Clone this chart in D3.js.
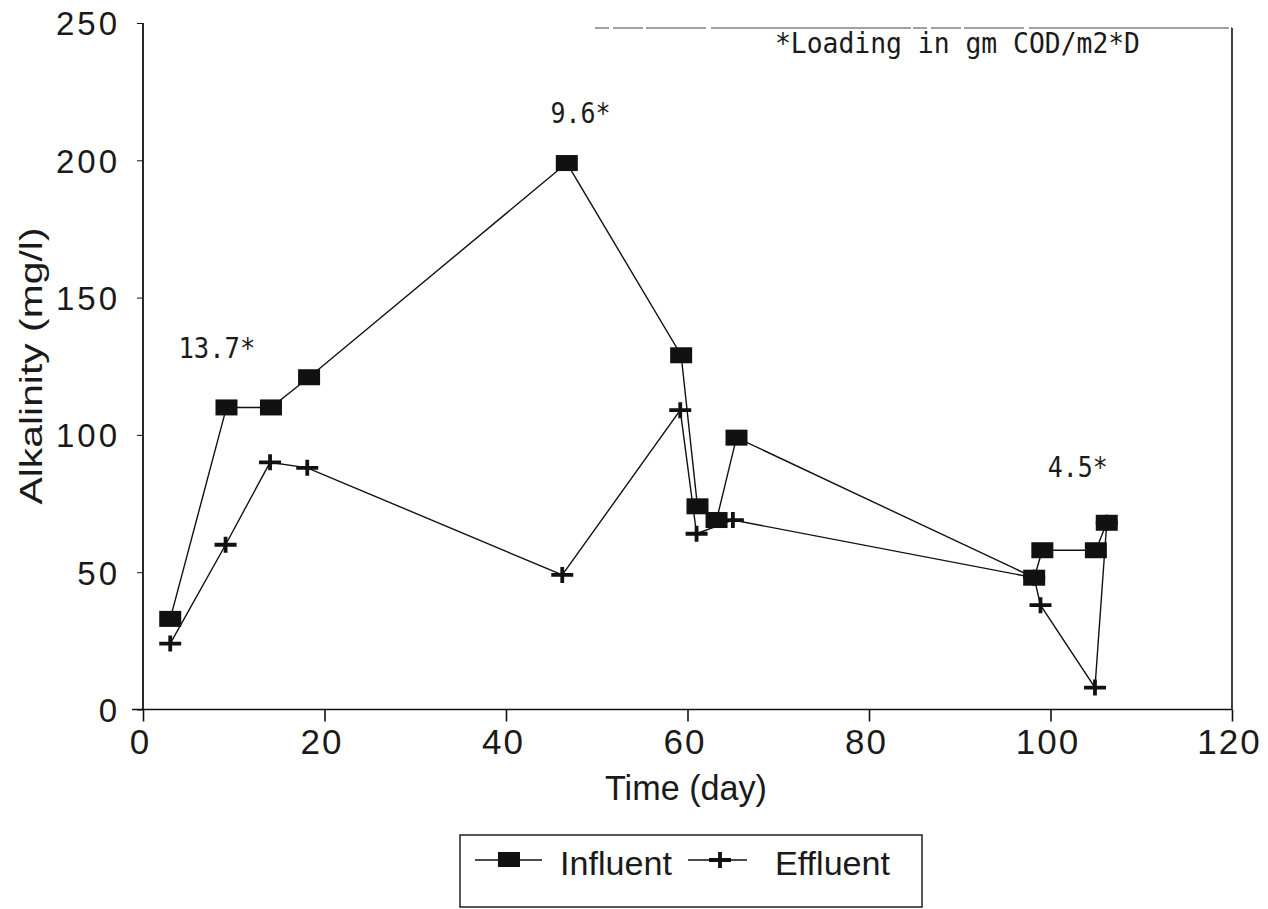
<!DOCTYPE html>
<html><head><meta charset="utf-8">
<script src="https://cdn.jsdelivr.net/npm/d3@7"></script>
<style>
html,body{margin:0;padding:0;background:#fff;}
svg{display:block;}
</style></head>
<body>
<svg id="chart" width="1268" height="909"></svg>
<script>
// ---- data ----
const influentX = [3, 9.2, 14.1, 18.3, 46.7, 59.3, 61.1, 63.2, 65.4, 98.2, 99.1, 105, 106.2];
const influentY = [33, 110, 110, 121, 199, 129, 74, 69, 99, 48, 58, 58, 68];
const effluentX = [3, 9.1, 14, 18.1, 46.2, 59.2, 61, 65, 98.2, 98.9, 104.9, 106.2];
const effluentY = [24, 60, 90, 88, 49, 109, 64, 69, 48, 38, 8, 68];
const xTicks = [0, 20, 40, 60, 80, 100, 120];
const yTicks = [0, 50, 100, 150, 200, 250];
const loadLabels = ["13.7*", "9.6*", "4.5*"];
const loadX = [3.9, 44.9, 99.7];
const loadY = [128, 213.6, 84.7];
const noteText = "*Loading in gm COD/m2*D";
const seriesNames = ["Influent", "Effluent"];

const svg = d3.select("#chart");
const x = d3.scaleLinear().domain([0, 120]).range([143, 1232]);
const y = d3.scaleLinear().domain([0, 250]).range([709.5, 23]);

const ink = "#111";
const textInk = "#1a1a1a";
const sans = "'Liberation Sans', Arial, sans-serif";
const mono = "'DejaVu Sans Mono', monospace";

// frame: top (faint, broken) and right
svg.append("line").attr("x1", 595).attr("x2", x(120)).attr("y1", 28).attr("y2", 28)
  .attr("stroke", "#444").attr("stroke-width", 1.2).attr("stroke-dasharray", "14,4,30,3,60,5,200,2");
svg.append("line").attr("x1", x(120)).attr("x2", x(120)).attr("y1", 28).attr("y2", y(0))
  .attr("stroke", ink).attr("stroke-width", 1.6);

// x axis
const xAxis = d3.axisBottom(x).tickValues(xTicks).tickSize(12).tickPadding(8).tickFormat(d3.format("d"));
const gx = svg.append("g").attr("transform", `translate(0,${y(0)})`).call(xAxis);
gx.select(".domain").attr("d", `M132,0H${x(120)}`).attr("stroke", ink).attr("stroke-width", 1.6);
gx.selectAll(".tick line").attr("stroke", ink).attr("stroke-width", 1.6);
gx.selectAll(".tick text").attr("font-family", sans).attr("font-size", 35).attr("fill", textInk)
  .attr("letter-spacing", "2px").attr("dx", "-3");

// y axis
const yAxis = d3.axisLeft(y).tickValues(yTicks).tickSize(6).tickPadding(17).tickFormat(d3.format("d"));
const gy = svg.append("g").attr("transform", `translate(${x(0)},0)`).call(yAxis);
gy.select(".domain").attr("d", `M0,${y(250)}V${y(0)}`).attr("stroke", ink).attr("stroke-width", 1.8);
gy.selectAll(".tick line").attr("stroke", ink).attr("stroke-width", 1);
gy.selectAll(".tick text").attr("font-family", sans).attr("font-size", 33).attr("fill", textInk)
  .attr("letter-spacing", "3px").attr("dy", "0.36em");

// axis titles
svg.append("text").attr("x", 686).attr("y", 800).attr("text-anchor", "middle")
  .attr("font-family", sans).attr("font-size", 35).attr("fill", textInk)
  .attr("textLength", 162).attr("lengthAdjust", "spacingAndGlyphs").text("Time  (day)");
svg.append("text").attr("transform", "translate(42,366) rotate(-90)").attr("text-anchor", "middle")
  .attr("font-family", sans).attr("font-size", 31).attr("fill", textInk)
  .attr("textLength", 277).attr("lengthAdjust", "spacingAndGlyphs").text("Alkalinity  (mg/l)");

// series lines
const infData = influentX.map((d, i) => [d, influentY[i]]);
const effData = effluentX.map((d, i) => [d, effluentY[i]]);
const line = d3.line().x(d => x(d[0])).y(d => y(d[1]));
svg.append("path").attr("d", line(effData)).attr("fill", "none").attr("stroke", ink).attr("stroke-width", 1.4);
svg.append("path").attr("d", line(infData)).attr("fill", "none").attr("stroke", ink).attr("stroke-width", 1.4);

// markers
function plus(g, cx, cy) {
  g.append("path").attr("d", `M${cx-11},${cy}H${cx+11}M${cx},${cy-8}V${cy+8}`)
    .attr("stroke", ink).attr("stroke-width", 3.8).attr("fill", "none");
}
function square(g, cx, cy) {
  g.append("rect").attr("x", cx - 11).attr("y", cy - 8).attr("width", 22).attr("height", 16).attr("fill", ink);
}
const gm = svg.append("g");
effData.forEach(d => plus(gm, x(d[0]), y(d[1])));
infData.forEach(d => square(gm, x(d[0]), y(d[1])));

// loading annotations
const annLen = [77, 60, 60];
loadLabels.forEach((t, i) => {
  svg.append("text").attr("x", x(loadX[i])).attr("y", y(loadY[i]))
    .attr("font-family", mono).attr("font-size", 28.5).attr("fill", textInk)
    .attr("textLength", annLen[i]).attr("lengthAdjust", "spacingAndGlyphs").text(t);
});
svg.append("text").attr("x", 775).attr("y", 53).attr("font-family", mono).attr("font-size", 28)
  .attr("fill", textInk).attr("textLength", 365).attr("lengthAdjust", "spacingAndGlyphs").text(noteText);

// legend
const lg = svg.append("g");
lg.append("rect").attr("x", 460).attr("y", 835).attr("width", 462).attr("height", 72)
  .attr("fill", "none").attr("stroke", ink).attr("stroke-width", 1.4);
lg.append("line").attr("x1", 475).attr("x2", 542).attr("y1", 860).attr("y2", 860).attr("stroke", ink).attr("stroke-width", 1.4);
lg.append("rect").attr("x", 498).attr("y", 852).attr("width", 22).attr("height", 15).attr("fill", ink);
lg.append("text").attr("x", 560).attr("y", 875).attr("font-family", sans).attr("font-size", 34).attr("fill", textInk)
  .attr("textLength", 112).attr("lengthAdjust", "spacingAndGlyphs").text(seriesNames[0]);
lg.append("line").attr("x1", 688).attr("x2", 747).attr("y1", 860).attr("y2", 860).attr("stroke", ink).attr("stroke-width", 1.4);
plus(lg, 720, 860);
lg.append("text").attr("x", 775).attr("y", 875).attr("font-family", sans).attr("font-size", 34).attr("fill", textInk)
  .attr("textLength", 115).attr("lengthAdjust", "spacingAndGlyphs").text(seriesNames[1]);
</script>
</body></html>
